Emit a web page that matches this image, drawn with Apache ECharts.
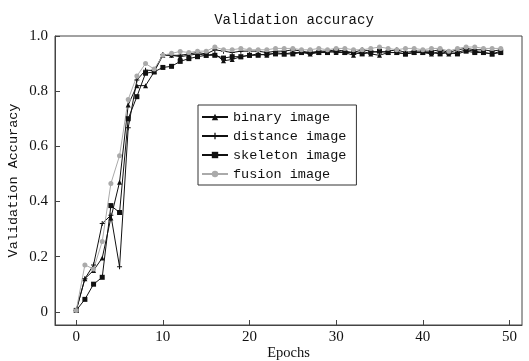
<!DOCTYPE html>
<html>
<head>
<meta charset="utf-8">
<script src="https://cdn.jsdelivr.net/npm/echarts@6/dist/echarts.min.js"></script>
<style>
  html, body { margin: 0; padding: 0; background: #fff; }
  #chart { width: 529px; height: 361px; }
</style>
</head>
<body>
<div id="chart"></div>
<script>
const epochs = Array.from({ length: 50 }, (_, i) => i);

const binaryImage = [0.005, 0.12, 0.15, 0.195, 0.34, 0.47, 0.75, 0.82, 0.82, 0.87,
  0.93, 0.93, 0.925, 0.93, 0.935, 0.93, 0.935, 0.91, 0.915, 0.925,
  0.93, 0.935, 0.93, 0.94, 0.935, 0.94, 0.94, 0.935, 0.94, 0.945,
  0.94, 0.94, 0.93, 0.945, 0.935, 0.93, 0.94, 0.94, 0.935, 0.94,
  0.94, 0.935, 0.945, 0.935, 0.94, 0.95, 0.945, 0.94, 0.935, 0.945];

const distanceImage = [0.005, 0.12, 0.17, 0.32, 0.35, 0.163, 0.667, 0.84, 0.876, 0.875,
  0.933, 0.93, 0.93, 0.935, 0.94, 0.935, 0.95, 0.945, 0.94, 0.945,
  0.945, 0.945, 0.94, 0.945, 0.945, 0.95, 0.945, 0.94, 0.945, 0.945,
  0.95, 0.945, 0.94, 0.95, 0.945, 0.94, 0.945, 0.95, 0.94, 0.945,
  0.945, 0.945, 0.95, 0.94, 0.95, 0.955, 0.95, 0.95, 0.945, 0.95];

const skeletonImage = [0.005, 0.045, 0.10, 0.125, 0.385, 0.36, 0.70, 0.78, 0.865, 0.87,
  0.886, 0.89, 0.908, 0.918, 0.925, 0.93, 0.93, 0.92, 0.925, 0.925,
  0.93, 0.93, 0.935, 0.935, 0.935, 0.935, 0.94, 0.94, 0.94, 0.94,
  0.945, 0.94, 0.94, 0.935, 0.94, 0.945, 0.94, 0.94, 0.935, 0.94,
  0.94, 0.94, 0.935, 0.94, 0.935, 0.945, 0.94, 0.94, 0.935, 0.94];

const fusionImage = [0.005, 0.17, 0.155, 0.255, 0.465, 0.566, 0.77, 0.855, 0.90, 0.88,
  0.93, 0.937, 0.944, 0.94, 0.945, 0.945, 0.96, 0.95, 0.95, 0.955,
  0.95, 0.95, 0.95, 0.955, 0.955, 0.955, 0.95, 0.95, 0.955, 0.95,
  0.955, 0.955, 0.95, 0.95, 0.955, 0.96, 0.955, 0.95, 0.955, 0.955,
  0.95, 0.955, 0.955, 0.945, 0.955, 0.96, 0.96, 0.955, 0.955, 0.955];

const xTicks = [0, 10, 20, 30, 40, 50];
const yTicks = [0, 0.2, 0.4, 0.6, 0.8, 1.0];

const monoFont = "'Liberation Mono', 'DejaVu Sans Mono', monospace";
const serifFont = "'Liberation Serif', 'DejaVu Serif', serif";
const plusPath = "path://M4,0 H6 V4 H10 V6 H6 V10 H4 V6 H0 V4 H4 Z";

const pairs = arr => epochs.map(i => [i, arr[i]]);

function makeSeries(name, data, symbol, size, color) {
  return {
    name,
    type: "line",
    data: pairs(data),
    symbol,
    symbolSize: size,
    showSymbol: true,
    lineStyle: { color, width: 1 },
    itemStyle: { color },
    emphasis: { disabled: true },
    animation: false,
  };
}

const chart = echarts.init(document.getElementById("chart"));

chart.setOption({
  animation: false,
  title: {
    text: "Validation accuracy",
    left: 289,
    top: 8,
    textAlign: "center",
    textStyle: { fontFamily: monoFont, fontSize: 14, fontWeight: "normal", color: "#111" },
  },
  legend: {
    orient: "vertical",
    left: 198,
    top: 105,
    padding: [5, 10, 4, 3],
    itemGap: 5,
    itemWidth: 26,
    itemHeight: 8,
    borderColor: "#333",
    borderWidth: 1,
    textStyle: { fontFamily: monoFont, fontSize: 13.5, color: "#111" },
    data: ["binary image", "distance image", "skeleton image", "fusion image"],
  },
  grid: {
    left: 55,
    right: 7,
    top: 36,
    bottom: 36,
    containLabel: false,
    outerBoundsMode: "none",
    show: true,
    borderColor: "#444",
    borderWidth: 1,
  },
  xAxis: {
    type: "value",
    min: -2.45,
    max: 51.45,
    name: "Epochs",
    nameLocation: "middle",
    nameGap: 21,
    nameMoveOverlap: false,
    nameTextStyle: { fontFamily: serifFont, fontSize: 14.5, color: "#111" },
    axisLine: { onZero: false, lineStyle: { color: "#444", width: 1 } },
    axisTick: { inside: true, length: 5, customValues: xTicks, lineStyle: { color: "#444" } },
    axisLabel: { customValues: xTicks, fontFamily: serifFont, fontSize: 15, color: "#111", margin: 5 },
    splitLine: { show: false },
  },
  yAxis: {
    type: "value",
    min: -0.048,
    max: 1.0,
    name: "Validation Accuracy",
    nameLocation: "middle",
    nameGap: 35,
    nameMoveOverlap: false,
    nameTextStyle: { fontFamily: monoFont, fontSize: 13.5, color: "#111" },
    axisLine: { show: true, onZero: false, lineStyle: { color: "#444", width: 1 } },
    axisTick: { show: true, inside: true, length: 5, customValues: yTicks, lineStyle: { color: "#444" } },
    axisLabel: {
      customValues: yTicks,
      fontFamily: serifFont,
      fontSize: 15,
      color: "#111",
      margin: 7,
      formatter: v => (Math.abs(v) < 1e-9 ? "0" : v.toFixed(1)),
    },
    splitLine: { show: false },
  },
  series: [
    makeSeries("binary image", binaryImage, "triangle", 5, "#111"),
    makeSeries("distance image", distanceImage, plusPath, 5, "#111"),
    makeSeries("skeleton image", skeletonImage, "rect", 5, "#111"),
    makeSeries("fusion image", fusionImage, "circle", 5, "#aaa"),
  ],
});
</script>
</body>
</html>
